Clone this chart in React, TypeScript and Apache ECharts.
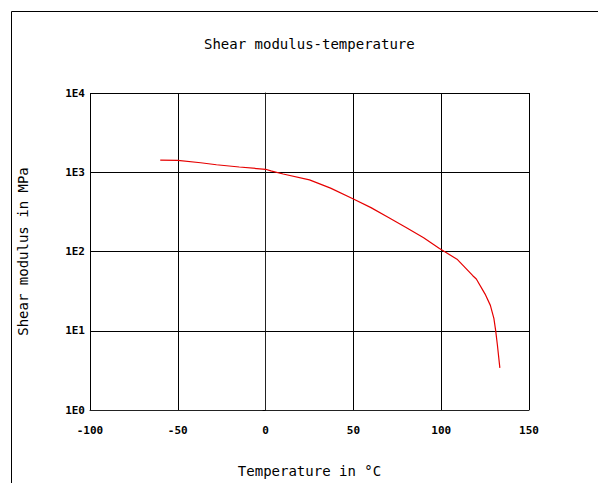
import React, { useEffect, useRef } from "react";
import * as echarts from "echarts";

const titleText = "Shear modulus-temperature";
const xAxisName = "Temperature in °C";
const yAxisName = "Shear modulus in MPa";
const xTicks = [-100, -50, 0, 50, 100, 150];
const yTicks = [1, 10, 100, 1000, 10000];

const temperature = [-60, -50, -37, -28, -15, 0, 3, 10, 25, 37, 50, 60, 70, 80, 90, 99, 109, 118, 120, 125, 128, 130, 131, 132, 133.4];
const modulus = [1425, 1413, 1318, 1244, 1164, 1090, 1040, 950, 800, 630, 460, 358, 268, 201, 149, 109, 80, 49.5, 45, 29, 20.9, 14.3, 10.1, 6.6, 3.4];

export default function App() {
  const ref = useRef<HTMLDivElement>(null);
  useEffect(() => {
    document.body.style.margin = "0";
    const chart = echarts.init(ref.current!, null, { renderer: "svg" });
    const mono = "DejaVu Sans Mono";
    chart.setOption({
      animation: false,
      backgroundColor: "#fff",
      title: {
        text: titleText,
        left: 199,
        top: 32,
        textStyle: { fontFamily: mono, fontSize: 14, fontWeight: "normal", color: "#000" },
      },
      graphic: [
        {
          type: "rect",
          shape: { x: 11.5, y: 11.5, width: 700, height: 600 },
          style: { fill: "none", stroke: "#000", lineWidth: 1 },
          silent: true,
        },
      ],
      grid: { left: 90, right: 69, top: 93, bottom: 71 },
      xAxis: {
        type: "value",
        min: xTicks[0],
        max: xTicks[xTicks.length - 1],
        interval: 50,
        name: xAxisName,
        nameLocation: "middle",
        nameGap: 54,
        nameTextStyle: { fontFamily: mono, fontSize: 14, color: "#000" },
        axisLine: { show: true, lineStyle: { color: "#222", width: 1 } },
        axisTick: { show: false },
        axisLabel: {
          fontFamily: mono,
          fontSize: 11,
          fontWeight: "bold",
          color: "#000",
          margin: 15,
        },
        splitLine: { show: true, lineStyle: { color: "#000", width: 1 } },
      },
      yAxis: {
        type: "log",
        logBase: 10,
        min: yTicks[0],
        max: yTicks[yTicks.length - 1],
        name: yAxisName,
        nameLocation: "middle",
        nameGap: 60,
        nameTextStyle: { fontFamily: mono, fontSize: 14, color: "#000" },
        axisLine: { show: true, lineStyle: { color: "#222", width: 1 } },
        axisTick: { show: true, length: 3, lineStyle: { color: "#000" } },
        axisLabel: {
          fontFamily: mono,
          fontSize: 11,
          fontWeight: "bold",
          color: "#000",
          margin: 5,
          formatter: (v: number) => "1E" + Math.round(Math.log10(v)),
        },
        splitLine: { show: true, lineStyle: { color: "#000", width: 1 } },
        minorTick: { show: false },
      },
      series: [
        {
          type: "line",
          data: temperature.map((t, i) => [t, modulus[i]]),
          showSymbol: false,
          symbol: "none",
          lineStyle: { color: "#e60000", width: 1.2 },
        },
      ],
    });
    return () => chart.dispose();
  }, []);
  return <div ref={ref} style={{ width: 598, height: 483 }} />;
}
